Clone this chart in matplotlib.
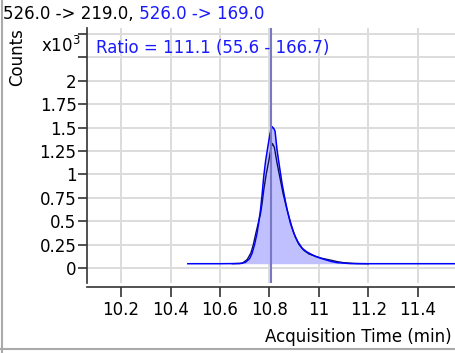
import matplotlib
matplotlib.use('Agg')
import matplotlib.pyplot as plt
from matplotlib.lines import Line2D
import numpy as np

# retention times (min) and counts (x10^3)
blue_t = [10.47, 10.60, 10.68, 10.703, 10.72, 10.73, 10.74, 10.75, 10.757, 10.764,
          10.771, 10.777, 10.785, 10.794, 10.803, 10.811, 10.818, 10.823, 10.831,
          10.841, 10.851, 10.862, 10.872, 10.885, 10.899, 10.915, 10.933, 10.95,
          10.967, 10.99, 11.021, 11.05, 11.075, 11.13, 11.2, 11.55]
blue_y = [0.046, 0.046, 0.048, 0.06, 0.10, 0.157, 0.25, 0.37, 0.49, 0.62,
          0.80, 0.975, 1.15, 1.30, 1.44, 1.51, 1.49, 1.46, 1.26,
          1.08, 0.905, 0.75, 0.62, 0.48, 0.37, 0.28, 0.21, 0.175,
          0.15, 0.12, 0.093, 0.07, 0.057, 0.047, 0.046, 0.046]

black_t = [10.65, 10.69, 10.71, 10.725, 10.735, 10.745, 10.755, 10.764, 10.771,
           10.777, 10.787, 10.798, 10.806, 10.812, 10.82, 10.831, 10.843, 10.855,
           10.867, 10.879, 10.892, 10.905, 10.92, 10.939, 10.96, 10.981, 11.01,
           11.047, 11.075, 11.10, 11.15, 11.2]
black_y = [0.046, 0.05, 0.09, 0.16, 0.25, 0.37, 0.48, 0.58, 0.70,
           0.83, 1.00, 1.15, 1.28, 1.33, 1.29, 1.12, 0.96, 0.80,
           0.67, 0.55, 0.43, 0.33, 0.25, 0.19, 0.15, 0.13, 0.105,
           0.085, 0.068, 0.057, 0.048, 0.046]

baseline = 0.046
peak_rt = 10.807
fill_start, fill_end = 10.66, 11.2

x_ticks = [10.2, 10.4, 10.6, 10.8, 11.0, 11.2, 11.4]
x_labels = ['10.2', '10.4', '10.6', '10.8', '11', '11.2', '11.4']
y_ticks = [0, 0.25, 0.5, 0.75, 1, 1.25, 1.5, 1.75, 2, 2.25, 2.5]
y_labels = ['0', '0.25', '0.5', '0.75', '1', '1.25', '1.5', '1.75', '2', '', '']

plt.rcParams['font.family'] = 'DejaVu Sans'
fig = plt.figure(figsize=(4.55, 3.53), dpi=100)
ax = fig.add_axes([87 / 455, 1 - 283 / 353, 1 - 87 / 455, (283 - 28) / 353])

# spine position first, it resets the ticks
for s in ['top', 'right']:
    ax.spines[s].set_visible(False)
ax.spines['bottom'].set_position(('outward', 3))

bt = np.array(blue_t)
by = np.array(blue_y)
m = (bt >= fill_start) & (bt <= fill_end)
ax.fill_between(bt[m], baseline, by[m], color='#c0c0ff', lw=0, zorder=2)
ax.plot(black_t, black_y, color='#10105a', lw=1.0, zorder=3)
ax.plot(blue_t, blue_y, color='#0000ff', lw=1.1, zorder=4)
ax.text(10.0985, 2.35, 'Ratio = 111.1 (55.6 - 166.7)', color='#1a1aff',
        fontsize=12, va='center', ha='left', zorder=5)
ax.axvline(peak_rt, color='#7878c4', lw=1.5, zorder=6)

ax.set_xlim(10.062, 11.551)
ax.set_ylim(-0.160, 2.564)
ax.set_xticks(x_ticks)
ax.set_xticklabels(x_labels, fontsize=12)
ax.set_yticks(y_ticks)
ax.set_yticklabels(y_labels, fontsize=12)
ax.grid(True, color='#dcdcdc', lw=1.4, zorder=0)
ax.set_axisbelow(True)
ax.spines['left'].set_color('#333333')
ax.spines['bottom'].set_color('#333333')
ax.spines['left'].set_linewidth(1.2)
ax.spines['bottom'].set_linewidth(1.2)
ax.tick_params(axis='x', length=7, width=1.2, color='#333333', pad=3, labelsize=12)
ax.tick_params(axis='y', length=6.5, width=1.2, color='#333333', pad=1, labelsize=12)

# titles and labels
t1 = fig.text(3 / 455, 1 - 19 / 353, '526.0 -> 219.0,', fontsize=12,
              color='black', va='baseline', ha='left')
ax.annotate(' 526.0 -> 169.0', xy=(1, 0), xycoords=t1, fontsize=12,
            color='#1a1aff', va='bottom', ha='left', annotation_clip=False)
fig.text(17 / 455, 1 - 57 / 353, 'Counts', rotation=90, fontsize=12,
         va='center', ha='center')
fig.text(81 / 455, 1 - 52 / 353, r'$\mathregular{x10^3}$', fontsize=12,
         va='baseline', ha='right')
fig.text(452 / 455, 1 - 342 / 353, 'Acquisition Time (min)', fontsize=12,
         va='baseline', ha='right')

# light frame on left and bottom
fig.add_artist(Line2D([1.5 / 455, 1.5 / 455], [0, 1], color='#aaaaaa', lw=1.5))
fig.add_artist(Line2D([0, 1], [1 - 348.5 / 353, 1 - 348.5 / 353], color='#aaaaaa', lw=1.5))

fig.savefig('out.png', dpi=100)
